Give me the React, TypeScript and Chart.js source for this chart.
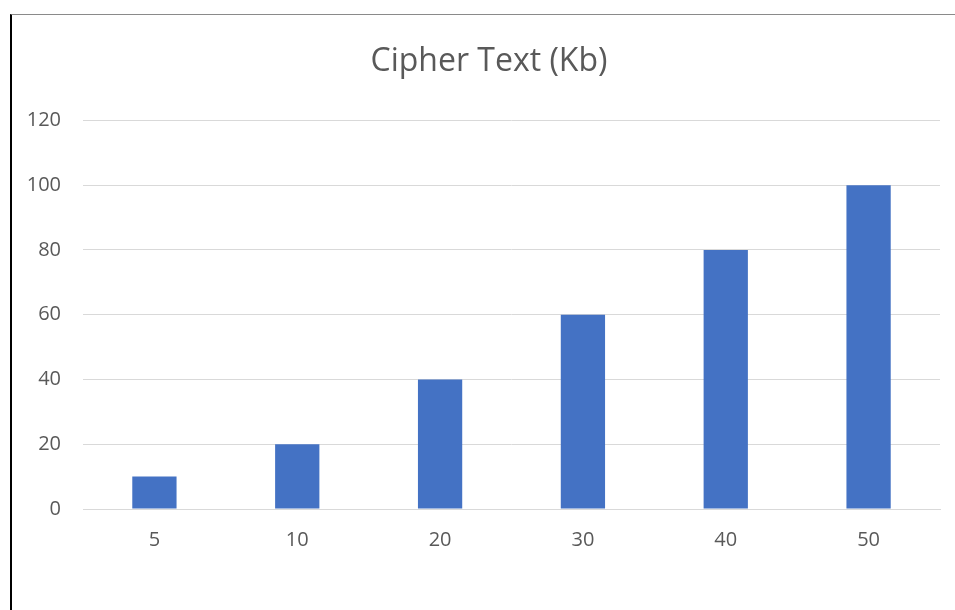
import React, { useEffect, useRef } from "react";
import { Chart, registerables } from "chart.js";

Chart.register(...registerables);

const categories = ["5", "10", "20", "30", "40", "50"];
const cipherValues = [10, 20, 40, 60, 80, 100];
const yTicks = [0, 20, 40, 60, 80, 100, 120];
const titleText = "Cipher Text (Kb)";

const shiftTitle = {
  id: "shiftTitle",
  afterLayout(chart: any) {
    const tb = chart.titleBlock;
    if (tb) {
      tb.left += 13;
      tb.right += 13;
    }
  },
};

export default function App() {
  const ref = useRef<HTMLCanvasElement | null>(null);

  useEffect(() => {
    document.body.style.margin = "0";
    const ctx = ref.current!.getContext("2d")!;
    const chart = new Chart(ctx, {
      type: "bar",
      data: {
        labels: categories,
        datasets: [
          {
            label: titleText,
            data: cipherValues,
            backgroundColor: "#4472C4",
            borderWidth: 0,
            barPercentage: 0.31,
            categoryPercentage: 1,
          },
        ],
      },
      options: {
        animation: false,
        responsive: false,
        maintainAspectRatio: false,
        layout: { padding: { left: 12, right: 15, top: 0, bottom: 0 } },
        plugins: {
          legend: { display: false },
          tooltip: { enabled: false },
          title: {
            display: true,
            text: titleText,
            color: "#595959",
            font: { family: "'Open Sans'", size: 32, weight: "normal" },
            padding: { top: 43, bottom: 39 },
          },
        },
        scales: {
          x: {
            grid: { display: false, drawTicks: false },
            border: { display: true, color: "#d9d9d9", width: 1 },
            ticks: {
              color: "#595959",
              font: { family: "'Open Sans'", size: 20 },
              padding: 19,
            },
            afterFit: (scale: any) => {
              scale.height = 101;
            },
          },
          y: {
            min: 0,
            max: 120,
            afterBuildTicks: (scale: any) => {
              scale.ticks = yTicks.map((v) => ({ value: v }));
            },
            grid: { color: "#d9d9d9", lineWidth: 1, drawTicks: false },
            border: { display: false },
            ticks: {
              color: "#595959",
              font: { family: "'Open Sans'", size: 20 },
              padding: 22,
            },
            afterFit: (scale: any) => {
              scale.width = 71;
            },
          },
        },
      },
      plugins: [shiftTitle],
    });
    return () => chart.destroy();
  }, []);

  return (
    <div style={{ position: "absolute", left: 0, top: 0, width: 955, height: 610, background: "#fff" }}>
      <canvas ref={ref} width={955} height={610} style={{ position: "absolute", left: 0, top: 0 }} />
      <div
        style={{
          position: "absolute",
          left: 10,
          top: 14,
          width: 945,
          height: 596,
          borderLeft: "2px solid #000",
          borderTop: "1px solid #8a8a8a",
          boxSizing: "border-box",
          pointerEvents: "none",
        }}
      />
    </div>
  );
}
